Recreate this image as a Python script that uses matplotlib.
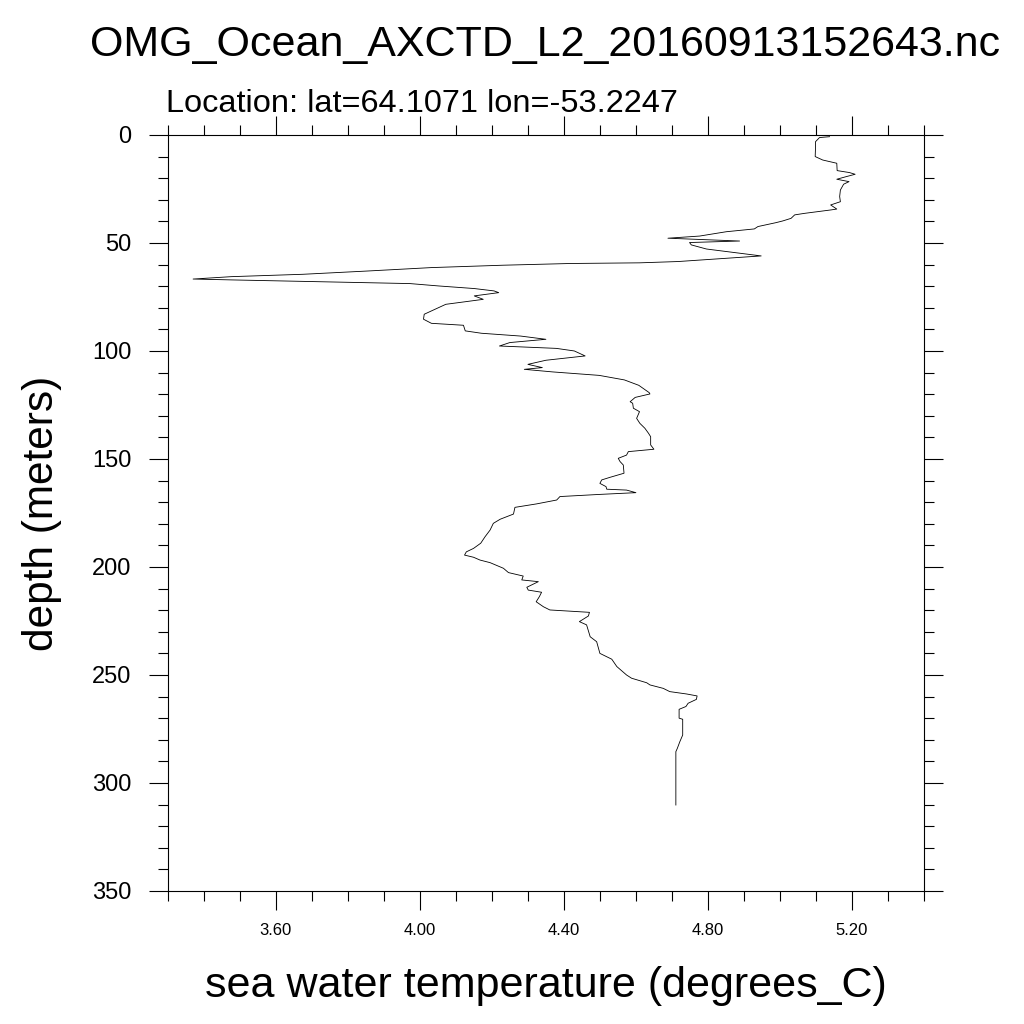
import numpy as np
from matplotlib import pyplot as plt
from matplotlib.ticker import FixedLocator


"""
AXCTD temperature profile, depth on an inverted y axis.
"""

title = 'OMG_Ocean_AXCTD_L2_20160913152643.nc'
subtitle = 'Location: lat=64.1071 lon=-53.2247'

# values
depth = [
    0.8, 1.2, 3.1, 5.4, 10.0, 11.6, 13.1, 16.5, 17.4, 18.2, 19.3, 20.5, 21.6, 22.8,
    25.5, 28.5, 30.9, 32.4, 34.3, 34.7, 36.3, 37.0, 38.6, 39.8, 40.6, 42.4, 43.5,
    44.8, 46.8, 47.8, 49.1, 49.8, 50.9, 52.8, 56.0, 57.9, 58.6, 59.2, 59.4, 59.5,
    60.3, 61.4, 63.0, 64.5, 65.6, 66.7, 67.1, 68.1, 68.8, 69.9, 71.1, 72.2, 73.0,
    74.5, 76.1, 77.3, 78.4, 80.7, 83.0, 85.3, 87.2, 88.1, 90.7, 91.8, 93.1, 94.6,
    96.1, 97.7, 98.8, 100.0, 102.3, 104.3, 106.2, 107.7, 108.5, 109.7, 111.3,
    113.4, 115.9, 119.3, 119.9, 121.5, 123.5, 124.2, 126.5, 128.1, 131.2, 133.5,
    135.8, 138.1, 139.7, 143.5, 145.5, 146.6, 148.2, 149.7, 151.2, 152.8, 156.6,
    158.5, 159.7, 161.3, 162.8, 164.0, 164.4, 165.6, 166.4, 167.4, 169.0, 170.8,
    172.4, 175.5, 177.9, 179.8, 182.9, 186.0, 189.0, 191.4, 193.0, 194.5, 195.5,
    196.8, 198.0, 200.6, 202.6, 204.2, 206.0, 206.8, 209.4, 210.7, 211.7, 213.7,
    216.1, 218.4, 219.9, 221.0, 222.7, 225.3, 226.8, 232.3, 234.6, 240.0, 242.7,
    246.1, 250.0, 251.5, 253.6, 254.6, 256.2, 257.7, 258.8, 259.7, 261.3, 263.1,
    264.6, 265.9, 270.0, 270.5, 277.8, 280.9, 284.0, 285.5, 310.2,
]
temp = [
    5.139, 5.111, 5.100, 5.100, 5.099, 5.120, 5.159, 5.160, 5.194, 5.210, 5.185,
    5.159, 5.193, 5.178, 5.169, 5.167, 5.169, 5.142, 5.159, 5.143, 5.069, 5.042,
    5.032, 5.009, 4.990, 4.940, 4.930, 4.852, 4.778, 4.690, 4.889, 4.750, 4.755,
    4.797, 4.949, 4.778, 4.718, 4.611, 4.469, 4.420, 4.232, 4.033, 3.854, 3.676,
    3.477, 3.371, 3.477, 3.775, 3.973, 4.053, 4.152, 4.207, 4.220, 4.152, 4.177,
    4.122, 4.073, 4.043, 4.013, 4.011, 4.033, 4.122, 4.127, 4.172, 4.281, 4.351,
    4.251, 4.222, 4.380, 4.430, 4.460, 4.351, 4.301, 4.341, 4.291, 4.370, 4.499,
    4.569, 4.609, 4.638, 4.640, 4.599, 4.585, 4.592, 4.594, 4.611, 4.603, 4.612,
    4.626, 4.636, 4.642, 4.642, 4.651, 4.580, 4.575, 4.552, 4.557, 4.566, 4.568,
    4.529, 4.506, 4.501, 4.518, 4.520, 4.575, 4.601, 4.501, 4.390, 4.381, 4.325,
    4.265, 4.261, 4.224, 4.205, 4.196, 4.182, 4.170, 4.150, 4.130, 4.125, 4.150,
    4.168, 4.196, 4.233, 4.247, 4.288, 4.284, 4.330, 4.298, 4.302, 4.339, 4.333,
    4.324, 4.344, 4.362, 4.472, 4.469, 4.444, 4.464, 4.474, 4.492, 4.501, 4.534,
    4.548, 4.575, 4.589, 4.631, 4.640, 4.677, 4.695, 4.742, 4.771, 4.769, 4.746,
    4.740, 4.721, 4.721, 4.731, 4.731, 4.723, 4.716, 4.712, 4.712,
]

x_major = [3.6, 4.0, 4.4, 4.8, 5.2]
x_labels = ['3.60', '4.00', '4.40', '4.80', '5.20']
y_major = [0, 50, 100, 150, 200, 250, 300, 350]

plt.rcParams['font.family'] = ['Liberation Sans', 'DejaVu Sans']

fig = plt.figure(figsize=(10.24, 10.24), dpi=100)
ax = fig.add_axes([0.1636, 0.1299, 0.7383, 0.7383])

ax.plot(temp, depth, color='black', linewidth=0.6)

ax.set_xlim(3.3, 5.4)
ax.set_ylim(350, 0)

ax.xaxis.set_major_locator(FixedLocator(x_major))
ax.set_xticklabels(x_labels)
ax.xaxis.set_minor_locator(FixedLocator(np.round(np.arange(3.3, 5.41, 0.1), 2)))
ax.yaxis.set_major_locator(FixedLocator(y_major))
ax.yaxis.set_minor_locator(FixedLocator(np.arange(0, 351, 10)))

ax.tick_params(which='both', direction='out', top=True, right=True,
               width=0.8, color='black')
ax.tick_params(which='major', length=14)
ax.tick_params(which='minor', length=7)
ax.tick_params(axis='x', which='major', labelsize=12, pad=9)
ax.tick_params(axis='y', which='major', labelsize=17, pad=12)
for s in ax.spines.values():
    s.set_linewidth(0.8)

fig.text(0.5327, 0.945, title, ha='center', va='baseline', fontsize=31)
fig.text(0.162, 0.8906, subtitle, ha='left', va='baseline', fontsize=23.4)
fig.text(0.5327, 0.0264, 'sea water temperature (degrees_C)',
         ha='center', va='baseline', fontsize=31)
fig.text(0.041, 0.499, 'depth (meters)', ha='center', va='center',
         rotation=90, fontsize=30.5)

plt.savefig('out.png', dpi=100)
